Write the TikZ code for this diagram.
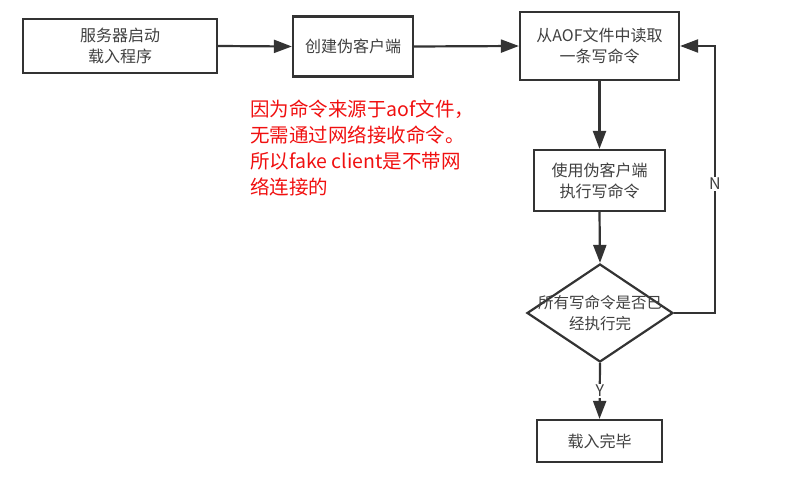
\documentclass[tikz,border=0pt]{standalone}
\usepackage{fontspec}
\setmainfont{Noto Sans CJK SC}
\usetikzlibrary{arrows.meta,shapes.geometric}
\definecolor{linegray}{HTML}{333333}
\definecolor{textgray}{HTML}{404040}
\definecolor{notered}{HTML}{F01010}
\tikzset{
	stepbox/.style={draw=linegray, line width=2.2pt, fill=white, inner sep=0pt, align=center, text=textgray, font=\fontsize{16}{21}\selectfont},
	decision/.style={diamond, draw=linegray, line width=2.2pt, fill=white, inner sep=0pt, minimum width=146pt, minimum height=98pt},
	flow/.style={draw=linegray, line width=2.2pt, -{Triangle[length=18pt 0 0, width=13pt 0 0]}},
	branch/.style={fill=white, inner sep=1.5pt, text=textgray, font=\fontsize{16}{18}\selectfont}
}

\begin{document}
\begin{tikzpicture}[x=1pt, y=-1pt]
		%%%%% START %%%%%
		\useasboundingbox (0, 0) rectangle (808, 479);
		
		\node[stepbox, minimum width=194, minimum height=54] (start) at (120, 46) {服务器启动\\载入程序};
		\node[stepbox, minimum width=120, minimum height=60] (create) at (353, 46.5) {创建伪客户端};
		\node[stepbox, minimum width=159, minimum height=68] (read) at (599.5, 46) {从AOF文件中读取\\一条写命令};
		\node[stepbox, minimum width=131, minimum height=61] (exec) at (599.5, 180.5) {使用伪客户端\\执行写命令};
		\node[decision] (check) at (600, 313) {};
		\node[align=center, inner sep=0pt, text=textgray, font=\fontsize{15.5}{21}\selectfont] (checktext) at (check) {所有写命令是否已\\经执行完};
		\node[stepbox, minimum width=125, minimum height=42] (done) at (599.5, 441) {载入完毕};
		
		\draw[flow] (start.east) -- (create.west);
		\draw[flow] (create.east) -- (read.west);
		\draw[flow] (read.south) -- (exec.north);
		\draw[flow] (exec.south) -- (check.north);
		\draw[flow] (check.south) -- node[branch] (ylabel) {Y} (done.north);
		
		\coordinate (loop) at (715, 46);
		\draw[flow] (check.east) -| (loop) -- (read.east);
		\node[branch] (nlabel) at (715, 184) {N};
		
		\node[anchor=north west, align=left, inner sep=0pt, text=notered, font=\fontsize{19.5}{26}\selectfont] (note) at (250, 100)
			{因为命令来源于aof文件，\\无需通过网络接收命令。\\所以fake client是不带网\\络连接的};
		%%%%% END %%%%%
\end{tikzpicture}
\end{document}
